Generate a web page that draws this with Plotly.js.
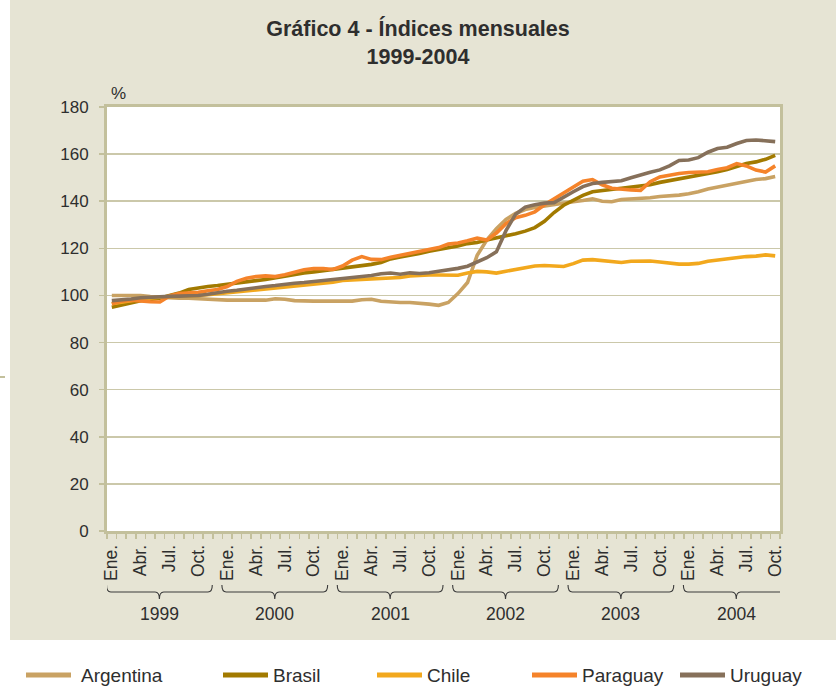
<!DOCTYPE html>
<html><head><meta charset="utf-8">
<script src="https://cdn.plot.ly/plotly-3.0.1.min.js"></script>
<style>html,body{margin:0;padding:0;background:#fff}#chart{width:836px;height:686px}</style>
</head><body><div id="chart"></div>
<script>
// ---- data ----
const years = ['1999','2000','2001','2002','2003','2004'];
const monthLabels = ['Ene.','Abr.','Jul.','Oct.'];
const seriesNames = ['Argentina','Brasil','Chile','Paraguay','Uruguay'];

// monthly index values, Jan 1999 .. Oct 2004
const argentina = [
  100, 100, 100, 100, 99.5, 99.3, 98.8, 98.8, 98.8, 98.6, 98.3, 98,
  98, 98, 98, 98, 98, 98.6, 98.4, 97.8, 97.6, 97.6, 97.6, 97.6,
  97.6, 97.6, 98.2, 98.4, 97.5, 97.2, 97, 97, 96.8, 96.3, 95.8, 97,
  100.8, 105.5, 117, 123.5, 128.3, 132.3, 134.8, 136.5, 137.3, 138, 138.5, 139.2,
  139.8, 140.3, 141, 140, 139.8, 140.7, 141, 141, 141.5, 142, 142.2, 142.6,
  143.2, 144, 145.2, 146, 146.5, 147.3, 148.2, 149.2, 149.6, 150.5
];
const brasil = [
  95, 96, 97, 97.8, 98.3, 98.8, 100, 101, 102.5, 103.2, 103.8, 104.2,
  104.8, 105.2, 105.8, 106.3, 106.8, 107.5, 108.3, 109, 109.5, 110, 110.5, 111,
  111.5, 112, 112.5, 113.2, 114, 115.5, 116.3, 117, 117.8, 118.8, 119.5, 120.5,
  121, 122, 122.5, 123.5, 124.3, 125.2, 126.2, 127.3, 128.8, 131.5, 135.2, 138.3,
  140.5, 142.5, 144, 144.5, 145, 145.3, 145.8, 146.3, 147, 148, 148.7, 149.5,
  150.3, 150.8, 151.5, 152.5, 153.5, 154.8, 156, 156.7, 157.8, 159.5
];
const chile = [
  96.5, 97, 97.8, 98.5, 99, 99.3, 99.5, 99.6, 99.8, 100, 100.3, 100.7,
  101.2, 101.6, 102, 102.5, 102.9, 103.2, 103.6, 104, 104.4, 104.8, 105.2, 105.6,
  106.4, 106.6, 106.8, 107, 107.2, 107.4, 107.6, 108.3, 108.6, 108.7, 108.7, 108.8,
  108.6, 109.5, 110.2, 110, 109.5, 110.3, 111, 111.5, 112.5, 112.7, 112.5, 112.3,
  113.5, 115, 115.2, 114.8, 114.6, 114, 114.5, 114.6, 114.6, 114.2, 113.6, 113.3,
  113.3, 113.6, 114.5, 115, 115.6, 116, 116.5, 116.7, 117.2, 116.8
];
const paraguay = [
  96.5, 97.5, 98, 97.5, 97.3, 97.2, 99.8, 100.8, 101, 101.3, 102, 102.5,
  103.8, 106, 107.3, 108, 108.3, 108, 108.8, 110, 110.9, 111.4, 111.4, 111,
  112.5, 115, 116.5, 115.3, 115.2, 116.2, 117, 117.7, 118.5, 119.2, 120.3, 121.8,
  122.3, 123.2, 124.3, 123.5, 126.5, 130.5, 133, 134, 135.5, 138.5, 141, 143.4,
  146, 148.5, 149.2, 147, 145.5, 145, 144.8, 144.6, 148.3, 150.3, 151.2, 151.8,
  152.2, 152.4, 152.5, 153.5, 154.2, 156, 155, 153.2, 152.4, 155
];
const uruguay = [
  97.8, 98, 98.5, 99, 99.3, 99.5, 99.6, 99.7, 99.8, 100, 100.5, 101.2,
  101.8, 102.2, 102.8, 103.4, 103.8, 104.2, 104.8, 105.2, 105.5, 105.9, 106.3, 106.7,
  107.2, 107.6, 108, 108.5, 109.2, 109.5, 109, 109.6, 109.3, 109.6, 110.3, 110.8,
  111.5, 112.4, 114.2, 116, 118.5, 127.5, 134.5, 137.5, 138.5, 139.2, 139.4, 141.5,
  144, 146.2, 147.5, 148, 148.2, 148.7, 150, 151.3, 152.3, 153.3, 155, 157.3,
  157.5, 158.5, 160.8, 162.4, 162.9, 164.5, 165.8, 166, 165.5, 165.3
];
const seriesValues = [argentina, brasil, chile, paraguay, uruguay];

// ---- style ----
const colors = ['#c9a263', '#a27a00', '#f2a81d', '#f5832a', '#86705a'];
const FONT = '"Liberation Sans", Arial, Helvetica, sans-serif';
const TXT = '#2e2e2e';
const OLIVE = '#c3c09c';
const GRID = '#cbc8aa';
const BEIGE = '#e6e4d4';

// plot area in pixels
const L = 107, R = 780, T = 107, B = 531;
const W = R - L, H = B - T;
const px = v => (v - L) / W;
const py = v => (B - v) / H;

const nMonths = argentina.length;
const months = argentina.map((_, i) => i);

const traces = seriesNames.map((name, s) => ({
  x: months, y: seriesValues[s], name: name, type: 'scatter', mode: 'lines',
  line: {color: colors[s], width: 3.6}, showlegend: false, hoverinfo: 'x+y+name'
}));

// x tick labels: Ene., Abr., Jul., Oct. every year
const tickvals = [], ticktext = [];
years.forEach((y, k) => monthLabels.forEach((m, j) => {
  const idx = k * 12 + j * 3;
  if (idx < nMonths) { tickvals.push(idx); ticktext.push(m); }
}));
const minorVals = [];
for (let i = 0; i <= nMonths; i++) minorVals.push(i - 0.5);

const shapes = [];
const annotations = [];

// backgrounds
shapes.push({type: 'rect', xref: 'paper', yref: 'paper', x0: px(10), x1: px(836), y0: py(640), y1: py(0),
  fillcolor: BEIGE, line: {width: 0}, layer: 'below'});
shapes.push({type: 'rect', xref: 'paper', yref: 'paper', x0: 0, x1: 1, y0: 0, y1: 1,
  fillcolor: '#ffffff', line: {width: 0}, layer: 'below'});
// small dash at the left edge
shapes.push({type: 'line', xref: 'paper', yref: 'paper', x0: px(0), x1: px(5), y0: py(377), y1: py(377),
  line: {color: OLIVE, width: 2}});

// year braces
const yTop = py(585), yMid = py(592), yTip = py(599);
years.forEach((yr, k) => {
  const x0 = k * 12 - 0.55, x1 = k * 12 + 10.45, xc = (x0 + x1) / 2, d = 0.45, d2 = 0.45;
  const path = `M ${x0},${yTop} Q ${x0},${yMid} ${x0 + d},${yMid} L ${xc - d2},${yMid} ` +
    `Q ${xc},${yMid} ${xc},${yTip} Q ${xc},${yMid} ${xc + d2},${yMid} L ${x1 - d},${yMid} ` +
    `Q ${x1},${yMid} ${x1},${yTop}`;
  shapes.push({type: 'path', xref: 'x', yref: 'paper', path: path, line: {color: '#3a3a3a', width: 1.1}});
  annotations.push({xref: 'x', yref: 'paper', x: xc, y: py(614), text: yr, showarrow: false,
    xanchor: 'center', yanchor: 'middle', font: {family: FONT, size: 17.5, color: TXT}});
});

// "%" unit label
annotations.push({xref: 'paper', yref: 'paper', x: px(109), y: py(94), text: '%', showarrow: false,
  xanchor: 'left', yanchor: 'middle', font: {family: FONT, size: 17, color: TXT}});

// custom legend
const legendX = [26, 223, 377, 532, 680];
const legendY = 675;
seriesNames.forEach((name, s) => {
  shapes.push({type: 'line', xref: 'paper', yref: 'paper', x0: px(legendX[s]), x1: px(legendX[s] + 45),
    y0: py(legendY), y1: py(legendY), line: {color: colors[s], width: 5}});
  annotations.push({xref: 'paper', yref: 'paper', x: px(legendX[s] + (s === 0 ? 53 : 48)), y: py(legendY),
    text: name, showarrow: false, xanchor: 'left', yanchor: 'middle',
    font: {family: FONT, size: 19, color: TXT}});
});

const layout = {
  width: 836, height: 686,
  margin: {l: L, r: 836 - R, t: T, b: 686 - B, pad: 0},
  paper_bgcolor: '#ffffff', plot_bgcolor: '#ffffff',
  font: {family: FONT, color: TXT, size: 17},
  title: {text: '<b>Gráfico 4 - Índices mensuales<br>1999-2004</b>', x: 0.5, xref: 'container', xanchor: 'center',
    y: 1 - 36 / 686, yref: 'container', yanchor: 'top', font: {family: FONT, size: 21.5, color: TXT}},
  xaxis: {
    range: [-0.5, nMonths - 0.5], tickmode: 'array', tickvals: tickvals, ticktext: ticktext,
    tickangle: -90, ticks: '', showgrid: false, zeroline: false,
    showline: true, linecolor: OLIVE, linewidth: 3, mirror: true,
    tickfont: {family: FONT, size: 17.5, color: TXT}, ticklabelstandoff: 4,
    minor: {tickmode: 'array', tickvals: minorVals, ticks: 'outside', ticklen: 5, tickwidth: 1.5, tickcolor: OLIVE, showgrid: false},
    fixedrange: true
  },
  yaxis: {
    range: [0, 180], dtick: 20, tick0: 0, ticks: 'outside', ticklen: 5, tickwidth: 1.5, tickcolor: OLIVE,
    showgrid: true, gridcolor: GRID, gridwidth: 1.6, zeroline: false,
    showline: true, linecolor: OLIVE, linewidth: 3, mirror: true,
    tickfont: {family: FONT, size: 17, color: TXT}, ticklabelstandoff: 7,
    fixedrange: true
  },
  shapes: shapes,
  annotations: annotations,
  showlegend: false
};

Plotly.newPlot('chart', traces, layout, {displayModeBar: false, staticPlot: true});
</script>
</body></html>
